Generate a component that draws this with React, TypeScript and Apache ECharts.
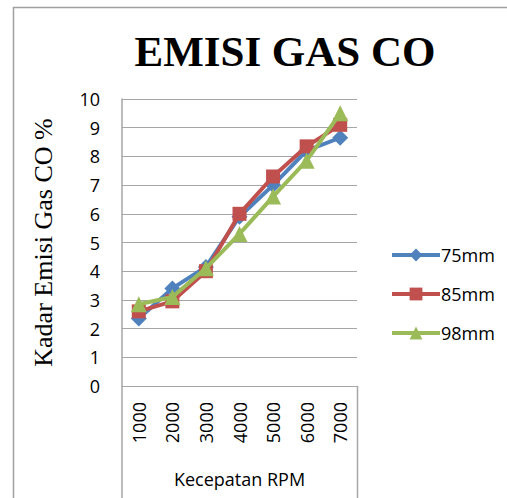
import React, { useEffect, useRef } from "react";
import * as echarts from "echarts";

const categories = ["1000", "2000", "3000", "4000", "5000", "6000", "7000"];
const s75 = [2.35, 3.4, 4.15, 5.9, 7.0, 8.2, 8.65];
const s85 = [2.6, 2.95, 4.0, 6.0, 7.3, 8.35, 9.1];
const s98 = [2.85, 3.1, 4.1, 5.3, 6.6, 7.85, 9.5];
const seriesNames = ["75mm", "85mm", "98mm"];
const colors = ["#4F81BD", "#C0504D", "#9BBB59"];
const symbols = ["diamond", "rect", "triangle"];
const symbolSizes = [16, 14, 16];

export default function App() {
  const ref = useRef<HTMLDivElement>(null);
  useEffect(() => {
    const chart = echarts.init(ref.current!, null, { renderer: "svg" });
    const data = [s75, s85, s98];
    const gray = "#A6A6A6";
    chart.setOption({
      animation: false,
      backgroundColor: "#ffffff",
      title: {
        text: "EMISI GAS CO",
        left: 280,
        textAlign: "center",
        top: 25,
        textStyle: {
          fontFamily: "Liberation Serif",
          fontWeight: "bold",
          fontSize: 43,
          color: "#000",
        },
      },
      legend: {
        orient: "vertical",
        left: 385,
        top: 240,
        itemWidth: 48,
        itemHeight: 16,
        itemGap: 19,
        data: seriesNames,
        lineStyle: { width: 4 },
        textStyle: {
          fontFamily: "Open Sans",
          fontSize: 18,
          color: "#000",
          lineHeight: 20,
          padding: [0, 0, 0, -4],
        },
      },
      grid: { left: 122, top: 99, width: 235, height: 287, containLabel: false },
      xAxis: {
        type: "category",
        data: categories,
        boundaryGap: true,
        axisLine: { show: true, lineStyle: { color: gray, width: 1 } },
        axisTick: { show: false },
        axisLabel: {
          rotate: 90,
          margin: 16,
          fontFamily: "Open Sans",
          fontSize: 18,
          color: "#000",
        },
        name: "Kecepatan RPM",
        nameLocation: "middle",
        nameGap: 84,
        nameTextStyle: { fontFamily: "Open Sans", fontSize: 18, color: "#000" },
      },
      yAxis: {
        type: "value",
        min: 0,
        max: 10,
        interval: 1,
        axisLine: { show: true, lineStyle: { color: gray, width: 1.5 } },
        axisTick: { show: false },
        splitLine: { show: true, lineStyle: { color: gray, width: 1 } },
        axisLabel: {
          margin: 22,
          fontFamily: "Open Sans",
          fontSize: 18,
          color: "#000",
        },
        name: "Kadar Emisi Gas CO %",
        nameLocation: "middle",
        nameGap: 66,
        nameRotate: 90,
        nameTextStyle: { fontFamily: "Liberation Serif", fontSize: 26, color: "#000" },
      },
      series: seriesNames.map((n, i) => ({
        name: n,
        type: "line",
        data: data[i],
        symbol: symbols[i],
        symbolSize: symbolSizes[i],
        color: colors[i],
        lineStyle: { width: 4, color: colors[i] },
        itemStyle: { color: colors[i] },
        z: 2 + i,
      })),
      graphic: [
        { type: "line", shape: { x1: 13.5, y1: 7, x2: 13.5, y2: 498 }, style: { stroke: "#A0A0A0", lineWidth: 1.5 } },
        { type: "line", shape: { x1: 13, y1: 7.5, x2: 507, y2: 7.5 }, style: { stroke: "#A0A0A0", lineWidth: 1.5 } },
        { type: "line", shape: { x1: 122, y1: 386, x2: 122, y2: 498 }, style: { stroke: gray, lineWidth: 1.5 } },
        { type: "line", shape: { x1: 357.5, y1: 386, x2: 357.5, y2: 498 }, style: { stroke: gray, lineWidth: 1.5 } },
      ],
    });
    return () => chart.dispose();
  }, []);
  return (
    <div
      ref={ref}
      style={{ position: "absolute", left: 0, top: 0, width: 507, height: 498, background: "#fff" }}
    />
  );
}
